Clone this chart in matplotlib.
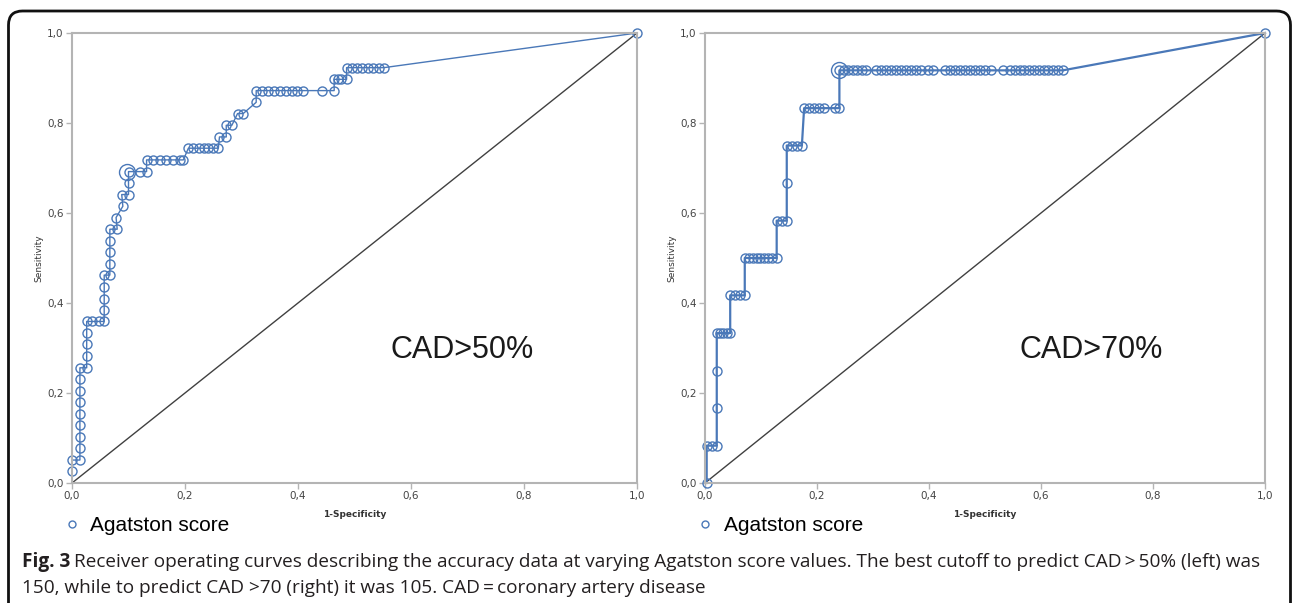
import numpy as np
import matplotlib
matplotlib.use('Agg')
import matplotlib.pyplot as plt
from matplotlib.lines import Line2D
from matplotlib.patches import FancyBboxPatch

# ROC points (1-specificity, sensitivity)
left_fpr = [0.000, 0.000, 0.014, 0.014, 0.014, 0.014, 0.014, 0.014, 0.014, 0.014, 0.014,
            0.026, 0.026, 0.026, 0.026, 0.026, 0.035, 0.047, 0.057,
            0.057, 0.057, 0.057, 0.057, 0.067, 0.067, 0.067, 0.067, 0.067,
            0.080, 0.078, 0.090, 0.088, 0.100, 0.100, 0.100,
            0.120, 0.132, 0.132, 0.144, 0.156, 0.167, 0.179, 0.191, 0.197,
            0.206, 0.215, 0.224, 0.233, 0.241, 0.250, 0.259,
            0.261, 0.273, 0.273, 0.283, 0.293, 0.303,
            0.326, 0.326, 0.337, 0.347, 0.358, 0.368, 0.378, 0.389, 0.399, 0.409,
            0.442, 0.464, 0.464, 0.470, 0.476, 0.486,
            0.486, 0.495, 0.505, 0.514, 0.524, 0.533, 0.543, 0.552, 1.000]
left_sens = [0.026, 0.051, 0.051, 0.077, 0.103, 0.128, 0.154, 0.179, 0.205, 0.231, 0.256,
             0.256, 0.282, 0.308, 0.333, 0.359, 0.359, 0.359, 0.359,
             0.385, 0.410, 0.436, 0.462, 0.462, 0.487, 0.513, 0.538, 0.564,
             0.564, 0.590, 0.615, 0.641, 0.641, 0.667, 0.692,
             0.692, 0.692, 0.718, 0.718, 0.718, 0.718, 0.718, 0.718, 0.718,
             0.744, 0.744, 0.744, 0.744, 0.744, 0.744, 0.744,
             0.769, 0.769, 0.795, 0.795, 0.821, 0.821,
             0.846, 0.872, 0.872, 0.872, 0.872, 0.872, 0.872, 0.872, 0.872, 0.872,
             0.872, 0.872, 0.897, 0.897, 0.897, 0.897,
             0.923, 0.923, 0.923, 0.923, 0.923, 0.923, 0.923, 0.923, 1.000]
left_best = (0.098, 0.692)

right_fpr = [0.003, 0.003, 0.012, 0.021, 0.021, 0.021, 0.021, 0.027, 0.033, 0.039, 0.045,
             0.045, 0.054, 0.062, 0.071, 0.071, 0.078, 0.085, 0.092, 0.099, 0.106, 0.113, 0.120, 0.128,
             0.128, 0.137, 0.146, 0.146, 0.146, 0.155, 0.164, 0.173,
             0.177, 0.186, 0.195, 0.204, 0.213, 0.232, 0.240,
             0.240, 0.248, 0.256, 0.264, 0.272, 0.280, 0.288,
             0.305, 0.314, 0.323, 0.332, 0.341, 0.350, 0.359, 0.368, 0.377, 0.386,
             0.398, 0.408, 0.428, 0.437, 0.446, 0.455, 0.464, 0.473, 0.482, 0.491, 0.500, 0.510,
             0.532, 0.545, 0.553, 0.562, 0.570, 0.579, 0.587, 0.596, 0.605, 0.613, 0.622, 0.630, 0.639,
             1.000]
right_sens = [0.000, 0.083, 0.083, 0.083, 0.167, 0.250, 0.333, 0.333, 0.333, 0.333, 0.333,
              0.417, 0.417, 0.417, 0.417, 0.500, 0.500, 0.500, 0.500, 0.500, 0.500, 0.500, 0.500, 0.500,
              0.583, 0.583, 0.583, 0.667, 0.750, 0.750, 0.750, 0.750,
              0.833, 0.833, 0.833, 0.833, 0.833, 0.833, 0.833,
              0.917, 0.917, 0.917, 0.917, 0.917, 0.917, 0.917,
              0.917, 0.917, 0.917, 0.917, 0.917, 0.917, 0.917, 0.917, 0.917, 0.917,
              0.917, 0.917, 0.917, 0.917, 0.917, 0.917, 0.917, 0.917, 0.917, 0.917, 0.917, 0.917,
              0.917, 0.917, 0.917, 0.917, 0.917, 0.917, 0.917, 0.917, 0.917, 0.917, 0.917, 0.917, 0.917,
              1.000]
right_best = (0.240, 0.917)

ticks = [0.0, 0.2, 0.4, 0.6, 0.8, 1.0]
tick_labels = ['0,0', '0,2', '0,4', '0,6', '0,8', '1,0']

BLUE = '#4a78b8'
GREY = '#b4b4b4'

fig = plt.figure(figsize=(12.92, 6.03), dpi=100)


def roc_panel(rect, fpr, sens, best, label, label_x, lw):
    ax = fig.add_axes(rect)
    ax.plot([0, 1], [0, 1], color='#404040', lw=1.0, zorder=1)
    ax.plot(fpr, sens, color=BLUE, lw=lw, marker='o', ms=6.5, mfc='none',
            mec=BLUE, mew=1.0, zorder=2, clip_on=False)
    ax.plot([best[0]], [best[1]], marker='o', ms=11.5, mfc='none', mec=BLUE,
            mew=1.0, ls='none', zorder=3, clip_on=False)
    ax.set_xlim(0, 1)
    ax.set_ylim(0, 1)
    ax.set_xticks(ticks)
    ax.set_yticks(ticks)
    ax.set_xticklabels(tick_labels)
    ax.set_yticklabels(tick_labels)
    ax.tick_params(labelsize=7.5, colors=GREY, labelcolor='#444444', length=4, width=1, pad=2)
    for s in ax.spines.values():
        s.set_color(GREY)
        s.set_linewidth(1.5)
    ax.set_xlabel('1-Specificity', fontsize=6.5, fontweight='bold', color='#333333', labelpad=6)
    ax.set_ylabel('Sensitivity', fontsize=6.5, color='#333333', labelpad=3)
    ax.text(label_x, 0.295, label, transform=ax.transAxes, fontsize=22,
            family='Liberation Sans', color='#1a1a1a', ha='center', va='center')
    h = Line2D([], [], marker='o', ls='none', ms=5, mfc='none', mec=BLUE, mew=1.0)
    ax.legend([h], ['Agatston score'], loc='upper left', bbox_to_anchor=(-0.03, -0.055),
              frameon=False, prop={'family': 'Liberation Sans', 'size': 15},
              handlelength=0.8, handletextpad=0.5, borderaxespad=0)
    return ax


roc_panel([72 / 1292, 1 - 483 / 603, 565 / 1292, 450 / 603], left_fpr, left_sens,
          left_best, 'CAD>50%', 0.69, 1.0)
roc_panel([705 / 1292, 1 - 483 / 603, 560 / 1292, 450 / 603], right_fpr, right_sens,
          right_best, 'CAD>70%', 0.69, 1.6)

# rounded frame around figure
frame = FancyBboxPatch((8.5, -20), 1282, 603 - 11 + 20, boxstyle='round,pad=0,rounding_size=14',
                       transform=None, fill=False, ec='#111111', lw=2)
fig.add_artist(frame)

# caption
cap_font = 'Open Sans'
cap_size = 13.65
fig.canvas.draw()
bold = fig.text(22 / 1292, 1 - 562 / 603, 'Fig. 3', fontsize=cap_size, family=cap_font,
                fontweight='bold', color='#231f20', va='center')
r = fig.canvas.get_renderer()
bb = bold.get_window_extent(r)
fig.text(bb.x1 / 1292 + 0.003, 1 - 562 / 603,
         'Receiver operating curves describing the accuracy data at varying Agatston score values. '
         'The best cutoff to predict CAD\u2009>\u200950% (left) was',
         fontsize=cap_size, family=cap_font, color='#231f20', va='center')
fig.text(22 / 1292, 1 - 588 / 603,
         '150, while to predict CAD >70 (right) it was 105. CAD\u2009=\u2009coronary artery disease',
         fontsize=cap_size, family=cap_font, color='#231f20', va='center')

fig.savefig('out.png', dpi=100)
